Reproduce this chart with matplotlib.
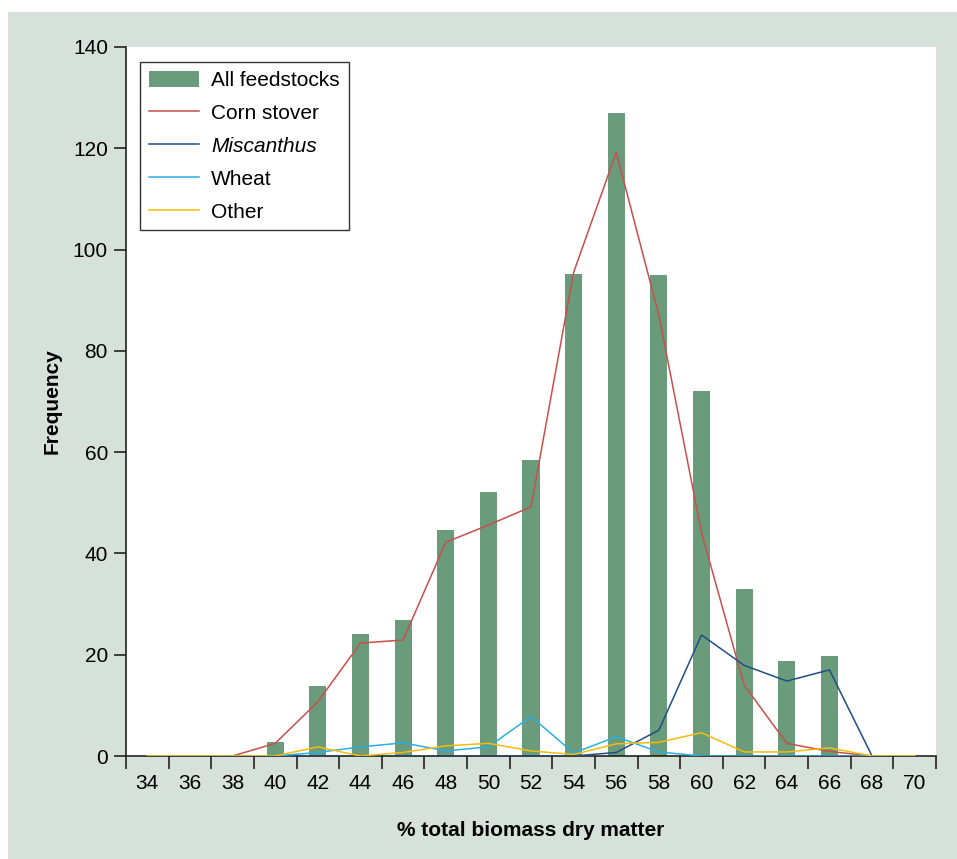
import matplotlib
matplotlib.use("Agg")
import matplotlib.pyplot as plt
from matplotlib.patches import Rectangle
from matplotlib.lines import Line2D
import numpy as np

plt.rcParams['font.family'] = ['Liberation Sans', 'DejaVu Sans']

categories = ["34", "36", "38", "40", "42", "44", "46", "48", "50", "52",
              "54", "56", "58", "60", "62", "64", "66", "68", "70"]
all_feedstocks = [0, 0, 0, 2.8, 13.8, 24.1, 26.9, 44.7, 52.2, 58.4,
                  95.2, 126.9, 95.0, 72.1, 33.0, 18.8, 19.8, 0, 0]
corn_stover = [0, 0, 0, 2.5, 10.7, 22.3, 22.9, 42.2, 45.6, 49.2,
               95.5, 119.2, 87.0, 44.1, 14.0, 2.5, 0.9, 0, 0]
miscanthus = [0, 0, 0, 0, 0, 0, 0, 0, 0, 0,
              0, 0.7, 5.1, 23.9, 17.9, 14.8, 17.0, 0, 0]
wheat = [0, 0, 0, 0, 0.7, 1.8, 2.6, 1.0, 1.8, 7.8,
         0.6, 3.8, 0.8, 0, 0, 0, 0, 0, 0]
other = [0, 0, 0, 0, 1.8, 0, 0.7, 2.0, 2.5, 1.0,
         0.3, 2.4, 2.7, 4.6, 0.8, 0.8, 1.6, 0, 0]

bar_color = "#6a9c7b"
colors = {"Corn stover": "#c94f4c", "Miscanthus": "#1f4e86",
          "Wheat": "#2aaee4", "Other": "#f7bb0c"}

W, H = 957, 859
fig = plt.figure(figsize=(W / 100, H / 100), dpi=100)
fig.patch.set_facecolor("white")
fig.patches.append(Rectangle((8 / W, 0), 1 - 8 / W, 1 - 12 / H,
                             transform=fig.transFigure, facecolor="#d6e1da",
                             edgecolor="none", zorder=-10))

left, right, top, bottom = 126 / W, 936 / W, 47 / H, 756 / H
ax = fig.add_axes([left, 1 - bottom, right - left, bottom - top])
ax.set_facecolor("white")

x = np.arange(len(categories))
ax.bar(x, all_feedstocks, width=0.4, color=bar_color, zorder=2,
       label="All feedstocks")
lw = 1.1
ax.plot(x, corn_stover, color=colors["Corn stover"], lw=lw, zorder=3)
ax.plot(x, miscanthus, color=colors["Miscanthus"], lw=lw, zorder=3)
ax.plot(x, wheat, color=colors["Wheat"], lw=lw, zorder=3)
ax.plot(x, other, color=colors["Other"], lw=lw, zorder=3)

ax.set_xlim(-0.5, len(categories) - 0.5)
ax.set_ylim(0, 140)
for s in ["top", "right"]:
    ax.spines[s].set_visible(False)
for s in ["left", "bottom"]:
    ax.spines[s].set_color("#222222")
    ax.spines[s].set_linewidth(1.2)

ax.set_xticks(np.arange(-0.5, len(categories), 1.0))
ax.set_xticklabels([])
ax.set_xticks(x, minor=True)
ax.set_xticklabels(categories, minor=True)
ax.tick_params(axis="x", which="major", direction="out", length=9, width=1.2,
               color="#222222")
ax.tick_params(axis="x", which="minor", length=0, pad=13, labelsize=15)
ax.set_yticks(np.arange(0, 141, 20))
ax.tick_params(axis="y", direction="out", length=9, width=1.2,
               color="#222222", labelsize=15, pad=4)

ax.set_xlabel("% total biomass dry matter", fontsize=15, fontweight="bold",
              labelpad=20)
ax.set_ylabel("Frequency", fontsize=15, fontweight="bold", labelpad=8)

handles = [
    Rectangle((0, 0), 1, 1, facecolor=bar_color, edgecolor="none"),
    Line2D([], [], color=colors["Corn stover"], lw=lw),
    Line2D([], [], color=colors["Miscanthus"], lw=lw),
    Line2D([], [], color=colors["Wheat"], lw=lw),
    Line2D([], [], color=colors["Other"], lw=lw),
]
labels = ["All feedstocks", "Corn stover", "Miscanthus", "Wheat", "Other"]
leg = ax.legend(handles, labels, loc="upper left",
                bbox_to_anchor=(14 / 810, 1 - 15 / 709), fontsize=15,
                frameon=True, fancybox=False, edgecolor="black",
                handlelength=2.4, handleheight=0.85, handletextpad=0.6,
                labelspacing=0.64, borderpad=0.42, borderaxespad=0)
leg.get_frame().set_linewidth(1.0)
leg.get_frame().set_facecolor("white")
for t in leg.get_texts():
    if t.get_text() == "Miscanthus":
        t.set_fontstyle("italic")

fig.savefig("out.png", dpi=100, facecolor=fig.get_facecolor())
